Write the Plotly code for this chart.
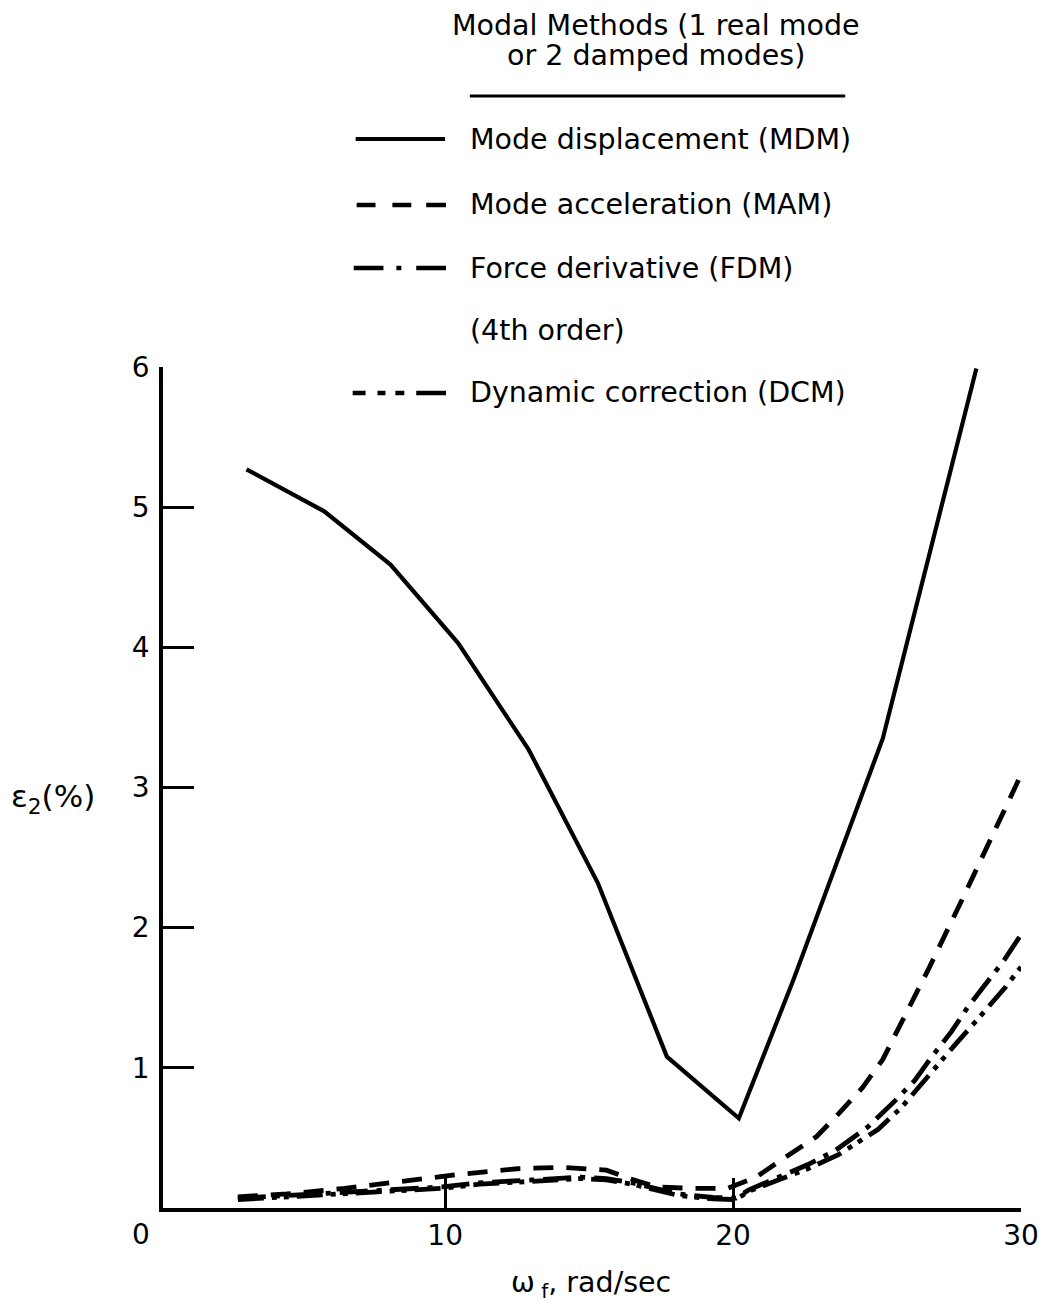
import plotly.graph_objects as go

# Relative error epsilon_2 (%) versus forcing frequency omega_f (rad/sec)
mdm_x = [3.1, 5.8, 8.1, 10.45, 12.9, 15.3, 17.7, 20.2, 22.1, 25.2, 28.45]
mdm_y = [5.27, 4.97, 4.59, 4.03, 3.27, 2.32, 1.08, 0.64, 1.63, 3.35, 5.99]

mam_x = [2.8, 4.5, 6.5, 8.5, 10.5, 12.5, 14.0, 15.6, 16.4, 17.35, 18.6, 19.8,
         20.8, 21.8, 22.9, 23.7, 24.5, 25.2, 26.8, 28.0, 30.0]
mam_y = [0.08, 0.10, 0.14, 0.19, 0.24, 0.28, 0.29, 0.27, 0.21, 0.15, 0.14, 0.14,
         0.22, 0.36, 0.51, 0.68, 0.86, 1.06, 1.71, 2.22, 3.09]

fdm_x = [2.8, 5.2, 7.2, 9.9, 11.2, 13.0, 14.7, 15.6, 16.5, 18.1, 19.3, 20.1,
         20.55, 21.7, 22.6, 23.55, 24.14, 24.69, 25.55, 26.31, 26.94, 27.59,
         28.14, 28.83, 29.42, 30.0]
fdm_y = [0.07, 0.10, 0.12, 0.15, 0.18, 0.20, 0.22, 0.21, 0.18, 0.10, 0.075, 0.07,
         0.13, 0.23, 0.31, 0.41, 0.50, 0.58, 0.75, 0.91, 1.09, 1.26,
         1.43, 1.61, 1.77, 1.95]

dcm_x = [2.8, 5.2, 7.2, 9.9, 11.2, 13.0, 14.7, 15.6, 16.5, 18.1, 19.3, 20.1,
         20.55, 21.7, 22.6, 23.66, 25.03, 25.86, 26.55, 27.69, 28.38, 29.48, 30.0]
dcm_y = [0.06, 0.09, 0.11, 0.14, 0.17, 0.19, 0.21, 0.20, 0.17, 0.09, 0.065, 0.06,
         0.12, 0.21, 0.28, 0.38, 0.56, 0.72, 0.89, 1.16, 1.32, 1.58, 1.72]

x_ticks = [10, 20, 30]
y_ticks = [1, 2, 3, 4, 5, 6]

legend_title = ["Modal Methods (1 real mode", "or 2 damped modes)"]
legend_labels = ["Mode displacement (MDM)", "Mode acceleration (MAM)",
                 "Force derivative (FDM)", "(4th order)", "Dynamic correction (DCM)"]

FONT = "DejaVu Sans"
W, H = 1051, 1315
L, R, T, B = 163, 1027, 367, 1208  # plot area in pixels


def px(x):
    return (x - L) / (R - L)


def py(y):
    return (B - y) / (B - T)


fig = go.Figure()
solid_w = 4.2
dash_w = 4.8
fig.add_trace(go.Scatter(x=mdm_x, y=mdm_y, mode="lines",
                         line=dict(color="black", width=solid_w)))
fig.add_trace(go.Scatter(x=mam_x, y=mam_y, mode="lines",
                         line=dict(color="black", width=dash_w, dash="20px,13px")))
fig.add_trace(go.Scatter(x=fdm_x, y=fdm_y, mode="lines",
                         line=dict(color="black", width=dash_w,
                                   dash="28px,9px,5px,9px")))
fig.add_trace(go.Scatter(x=dcm_x, y=dcm_y, mode="lines",
                         line=dict(color="black", width=dash_w,
                                   dash="26px,8px,5px,7px,5px,8px")))

shapes = []


def seg(x0, x1, y, w=4.5):
    shapes.append(dict(type="line", xref="paper", yref="paper",
                       x0=px(x0), x1=px(x1), y0=py(y), y1=py(y),
                       line=dict(color="black", width=w)))


# legend header rule
seg(472, 850, 96, 2.8)
# legend line samples
seg(357, 447, 139, 4.2)
for a, b in [(358, 377), (394, 413), (428, 448)]:
    seg(a, b, 205)
for a, b in [(355, 385), (398, 403), (418, 448)]:
    seg(a, b, 268)
for a, b in [(354, 367), (379, 387), (397, 406), (418, 448)]:
    seg(a, b, 393)

annotations = []


def text(s, x, y, xanchor="left", size=28.5):
    annotations.append(dict(text=s, xref="paper", yref="paper",
                            x=px(x), y=py(y), xanchor=xanchor, yanchor="middle",
                            showarrow=False,
                            font=dict(family=FONT, size=size, color="black")))


text(legend_title[0], 659, 25, "center")
text(legend_title[1], 659, 55, "center")
for lab, yy in zip(legend_labels, [139, 204, 268, 330, 393]):
    text(lab, 470, yy)

# axis titles and the shared origin label
text("ε<sub>2</sub>(%)", 8, 798, size=31)
text("ω<sub> f</sub>, rad/sec", 594, 1284, "center")
text("0", 141, 1234, "center", size=28)

fig.update_layout(
    width=W, height=H,
    margin=dict(l=L, r=W - R, t=T, b=H - B, pad=0),
    paper_bgcolor="white", plot_bgcolor="white",
    showlegend=False,
    shapes=shapes, annotations=annotations,
    font=dict(family=FONT, size=28, color="black"),
    xaxis=dict(range=[0.2, 30], tickvals=x_ticks,
               ticktext=[str(v) for v in x_ticks],
               ticks="inside", ticklen=30, tickwidth=2.8, tickcolor="black",
               showline=True, linewidth=3.5, linecolor="black",
               showgrid=False, zeroline=False, ticklabelstandoff=0,
               tickfont=dict(family=FONT, size=28, color="black")),
    yaxis=dict(range=[0, 6], tickvals=y_ticks,
               ticks="inside", ticklen=31, tickwidth=2.8, tickcolor="black",
               showline=True, linewidth=3.5, linecolor="black",
               showgrid=False, zeroline=False, ticklabelstandoff=4,
               tickfont=dict(family=FONT, size=28, color="black")),
)

fig.write_html("out.html")
